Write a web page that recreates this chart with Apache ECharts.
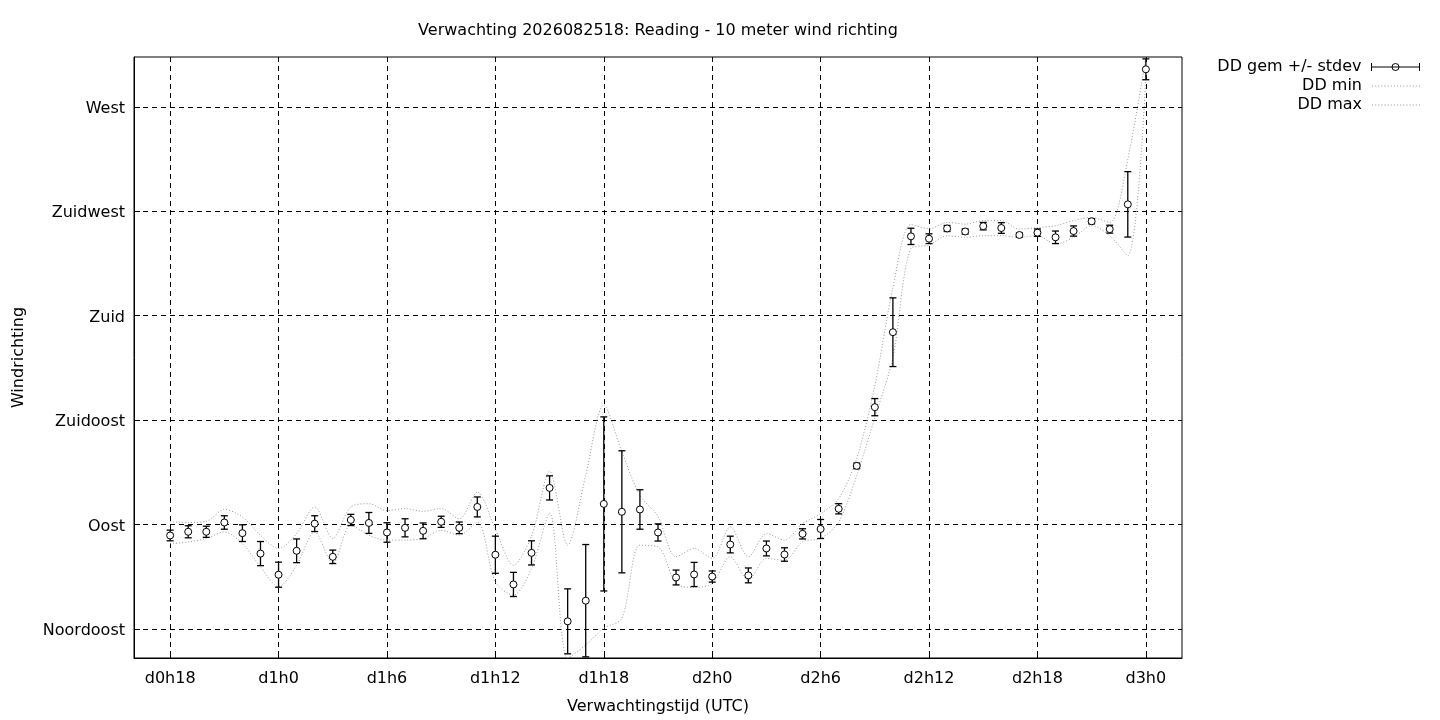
<!DOCTYPE html>
<html><head><meta charset="utf-8">
<script src="https://cdn.jsdelivr.net/npm/echarts@6/dist/echarts.min.js"></script>
<style>html,body{margin:0;padding:0;background:#fff}#c{width:1440px;height:720px}</style>
</head><body><div id="c"></div>
<script>
const hours = [18,19,20,21,22,23,24,25,26,27,28,29,30,31,32,33,34,35,36,37,38,39,40,41,42,43,44,45,46,47,48,49,50,51,52,53,54,55,56,57,58,59,60,61,62,63,64,65,66,67,68,69,70,71,72];
const ddMean = [85.3,86.9,86.9,90.9,86.3,77.5,68.4,78.7,90.4,76.1,92.0,90.7,86.6,88.6,87.3,91.2,88.6,97.6,77.0,64.2,77.8,105.8,48.3,57.2,98.9,95.5,96.5,86.6,67.2,68.5,67.6,81.4,68.1,79.7,77.1,86.0,88.1,96.8,115.3,140.6,172.9,214.2,213.2,217.6,216.3,218.6,217.8,214.8,215.8,213.8,216.5,220.7,217.3,228.0,286.2];
const ddStd = [2.3,2.6,2.4,2.9,3.6,5.2,5.4,5.1,3.4,2.9,2.4,4.5,4.2,3.9,3.4,2.4,2.5,4.3,8.0,5.2,5.2,5.2,14.0,24.2,37.5,26.3,8.5,3.7,3.2,5.2,2.4,3.6,3.2,3.2,2.9,2.2,4.1,2.2,1.2,3.7,14.8,3.5,2.1,1.3,1.1,1.6,2.3,0.9,1.6,2.7,2.2,1.1,1.7,14.1,4.5];
const ddMin = [81.8,82.5,84.0,86.8,81.8,71.8,63.2,72.5,86.8,73.2,89.7,85.4,83.3,83.3,84.0,87.5,85.4,91.0,65.3,59.6,71.1,95.0,32.5,38.1,45.3,49.6,81.1,80.4,64.6,62.9,64.6,76.1,66.0,75.4,74.6,82.6,84.0,91.2,111.2,136.0,162.0,209.0,210.5,214.5,213.8,214.5,214.5,213.8,214.5,210.9,213.8,218.8,214.5,205.9,283.3];
const ddMax = [91.2,90.9,91.4,96.5,93.3,85.4,79.7,86.1,97.6,84.0,97.6,99.0,96.0,96.9,95.7,96.9,92.5,104.0,88.0,72.5,85.0,113.0,81.1,111.2,141.6,121.3,102.6,93.5,76.1,79.7,75.4,89.0,76.1,86.1,83.3,90.4,94.7,101.2,118.5,149.9,192.0,219.3,217.5,220.2,219.5,221.0,221.0,217.3,218.0,218.8,221.0,222.4,220.2,247.5,291.5];
const xTickValues = [18,24,30,36,42,48,54,60,66,72];
const xTickLabels = ['d0h18','d1h0','d1h6','d1h12','d1h18','d2h0','d2h6','d2h12','d2h18','d3h0'];
const yTickValues = [45,90,135,180,225,270];
const yTickLabels = ['Noordoost','Oost','Zuidoost','Zuid','Zuidwest','West'];

const FONT = 'DejaVu Sans';
const txt = {fontFamily: FONT, fontSize: 16, color: '#000'};
let dotPath = 'path://';
for (let i = 0; i <= 45; i += 3) dotPath += 'M' + i + ',0h1v1h-1z';
const errIcon = 'path://M0,4H48M0,0V8M48,0V8M27.5,4A3.5,3.5,0,1,1,20.5,4A3.5,3.5,0,1,1,27.5,4Z';

const chart = echarts.init(document.getElementById('c'), null, {renderer: 'canvas'});
const legendBase = {right: 20, orient: 'vertical', align: 'right', padding: 0, itemWidth: 48, itemHeight: 8,
  selectedMode: false, textStyle: Object.assign({}, txt, {padding: [0, 5, 0, 0]})};
chart.setOption({
  animation: false,
  backgroundColor: '#fff',
  title: {text: 'Verwachting 2026082518: Reading - 10 meter wind richting', left: 658, textAlign: 'center', top: 23, padding: 0,
    textStyle: Object.assign({}, txt, {fontWeight: 'normal'})},
  legend: [
    Object.assign({}, legendBase, {top: 59, data: [{name: 'DD gem +/- stdev', icon: errIcon, itemStyle: {color: '#fff', borderColor: '#000', borderWidth: 1}}]}),
    Object.assign({}, legendBase, {top: 78, data: [{name: 'DD min', icon: dotPath, itemStyle: {color: '#999', borderWidth: 0}}]}),
    Object.assign({}, legendBase, {top: 97, data: [{name: 'DD max', icon: dotPath, itemStyle: {color: '#999', borderWidth: 0}}]})
  ],
  grid: {left: 134, right: 258, top: 57, bottom: 61, show: true, borderColor: '#000', borderWidth: 1, backgroundColor: 'transparent'},
  xAxis: {
    type: 'value', min: 16, max: 74,
    name: 'Verwachtingstijd (UTC)', nameLocation: 'middle', nameGap: 41, nameTextStyle: txt,
    axisLine: {show: true, lineStyle: {color: '#000', width: 1}},
    axisTick: {show: true, inside: true, length: 6, customValues: xTickValues, lineStyle: {color: '#000'}},
    axisLabel: Object.assign({}, txt, {customValues: xTickValues, margin: 13, formatter: v => xTickLabels[xTickValues.indexOf(v)]}),
    splitLine: {show: true, lineStyle: {color: '#000', width: 1, type: [5, 4]}}
  },
  yAxis: {
    type: 'value', min: 32.5, max: 291.5,
    name: 'Windrichting', nameLocation: 'middle', nameRotate: 90, nameGap: 107, nameTextStyle: txt,
    axisLine: {show: true, lineStyle: {color: '#000', width: 1}},
    axisTick: {show: true, inside: true, length: 6, customValues: yTickValues, lineStyle: {color: '#000'}},
    axisLabel: Object.assign({}, txt, {customValues: yTickValues, margin: 9,
      formatter: v => '{a|' + yTickLabels[yTickValues.indexOf(v)] + '}',
      rich: {a: Object.assign({}, txt, {padding: [4, 0, 0, 0]})}}),
    splitLine: {show: true, lineStyle: {color: '#000', width: 1, type: [5, 4]}}
  },
  series: [
    {name: 'DD min', type: 'line', data: hours.map((h, i) => [h, ddMin[i]]), symbol: 'none', smooth: 0.3,
      lineStyle: {color: '#999', width: 1, type: [1, 2]}, itemStyle: {color: '#999'}, z: 2},
    {name: 'DD max', type: 'line', data: hours.map((h, i) => [h, ddMax[i]]), symbol: 'none', smooth: 0.3,
      lineStyle: {color: '#999', width: 1, type: [1, 2]}, itemStyle: {color: '#999'}, z: 2},
    {name: 'DD gem +/- stdev', type: 'custom', clip: true, z: 3,
      data: hours.map((h, i) => [h, ddMean[i], ddStd[i]]),
      encode: {x: 0, y: 1},
      itemStyle: {color: '#000'},
      renderItem: function (params, api) {
        const x = api.value(0), m = api.value(1), s = api.value(2);
        const pm = api.coord([x, m]);
        const ph = api.coord([x, m + s]);
        const pl = api.coord([x, m - s]);
        const cw = 3.5;
        const st = {stroke: '#000', lineWidth: 1.3, fill: null};
        return {type: 'group', children: [
          {type: 'line', shape: {x1: pm[0], y1: ph[1], x2: pm[0], y2: pl[1]}, style: st},
          {type: 'line', shape: {x1: pm[0] - cw, y1: ph[1], x2: pm[0] + cw, y2: ph[1]}, style: st},
          {type: 'line', shape: {x1: pm[0] - cw, y1: pl[1], x2: pm[0] + cw, y2: pl[1]}, style: st},
          {type: 'circle', shape: {cx: pm[0], cy: pm[1], r: 3.5}, style: {fill: '#fff', stroke: '#000', lineWidth: 1}}
        ]};
      }
    }
  ]
});
</script>
</body></html>
